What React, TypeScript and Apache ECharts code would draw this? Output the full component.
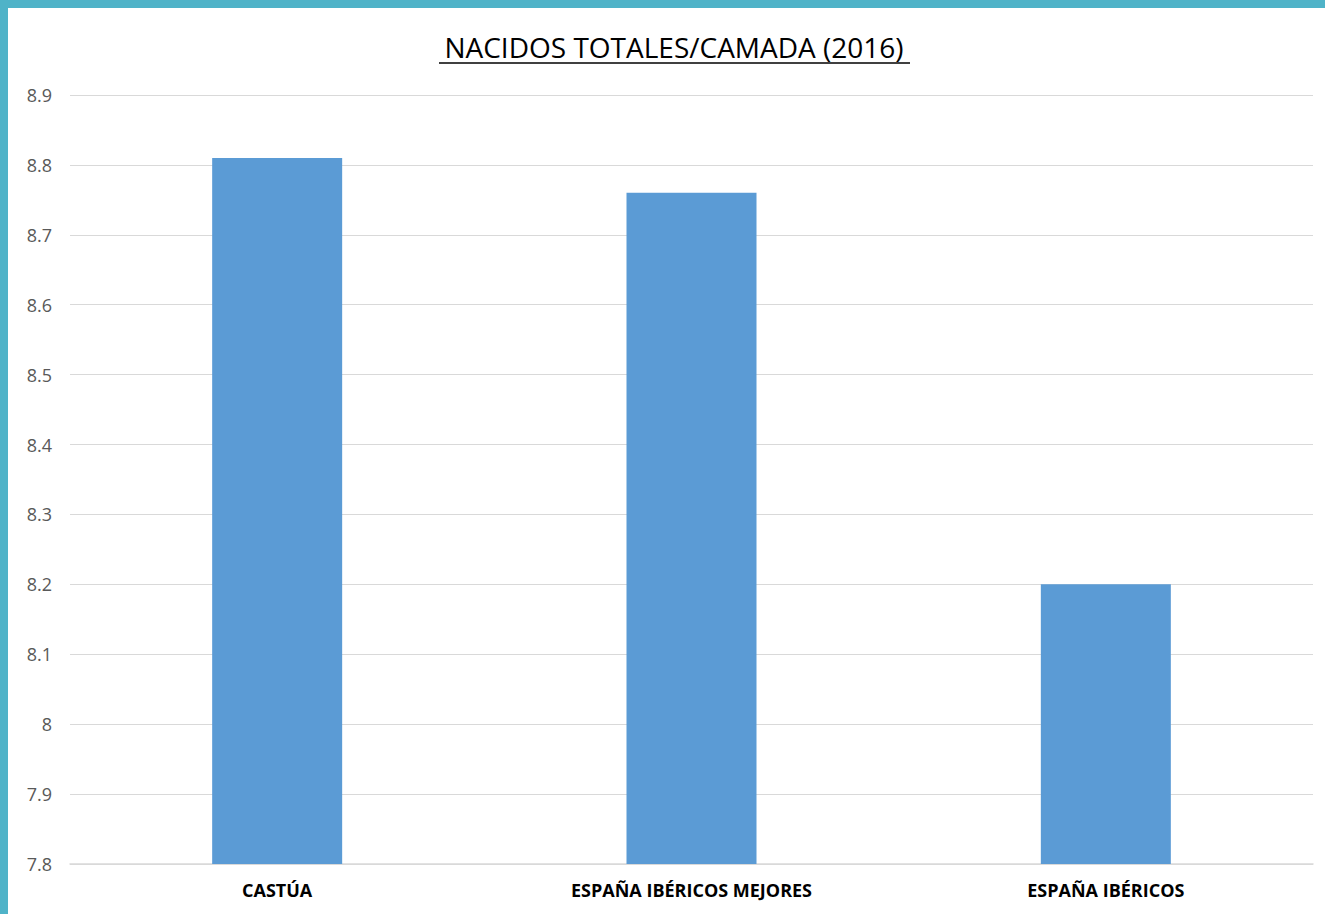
import React, { useEffect, useRef } from "react";
import * as echarts from "echarts";

const categories = ["CASTÚA", "ESPAÑA IBÉRICOS MEJORES", "ESPAÑA IBÉRICOS"];
const values = [8.81, 8.76, 8.2];
const titleText = "NACIDOS TOTALES/CAMADA (2016)";

export default function App() {
  const ref = useRef<HTMLDivElement>(null);
  useEffect(() => {
    document.body.style.margin = "0";
    const chart = echarts.init(ref.current!, null, { renderer: "svg" });
    chart.setOption({
      animation: false,
      backgroundColor: "#ffffff",
      grid: { left: 70, right: 12, top: 95, bottom: 50, containLabel: false },
      graphic: [
        { type: "rect", left: 0, top: 0, shape: { width: 1325, height: 8 }, style: { fill: "#4FB3C8" } },
        { type: "rect", left: 0, top: 0, shape: { width: 8, height: 914 }, style: { fill: "#4FB3C8" } },
        {
          type: "text",
          x: 674,
          y: 47,
          style: {
            text: titleText,
            fill: "#000000",
            font: '28px "Open Sans", sans-serif',
            align: "center",
            verticalAlign: "middle",
          },
        },
        {
          type: "line",
          shape: { x1: 439, y1: 63, x2: 910, y2: 63 },
          style: { stroke: "#000000", lineWidth: 1.5 },
        },
      ],
      xAxis: {
        type: "category",
        data: categories,
        axisLine: { show: true, lineStyle: { color: "#D9D9D9", width: 1.5 } },
        axisTick: { show: false },
        axisLabel: {
          color: "#000000",
          fontWeight: "bold",
          fontSize: 18,
          fontFamily: '"Open Sans", sans-serif',
          margin: 17,
        },
      },
      yAxis: {
        type: "value",
        min: 7.8,
        max: 8.9,
        interval: 0.1,
        axisLine: { show: false },
        axisTick: { show: false },
        splitLine: { lineStyle: { color: "#D9D9D9", width: 1.2 } },
        axisLabel: {
          color: "#595959",
          fontSize: 18,
          fontFamily: '"Open Sans", sans-serif',
          margin: 18,
          formatter: (v: number) => String(+v.toFixed(1)),
        },
      },
      series: [
        {
          type: "bar",
          data: values,
          barWidth: 130,
          itemStyle: { color: "#5B9BD5" },
        },
      ],
    });
    return () => chart.dispose();
  }, []);
  return <div ref={ref} style={{ width: 1325, height: 914 }} />;
}
